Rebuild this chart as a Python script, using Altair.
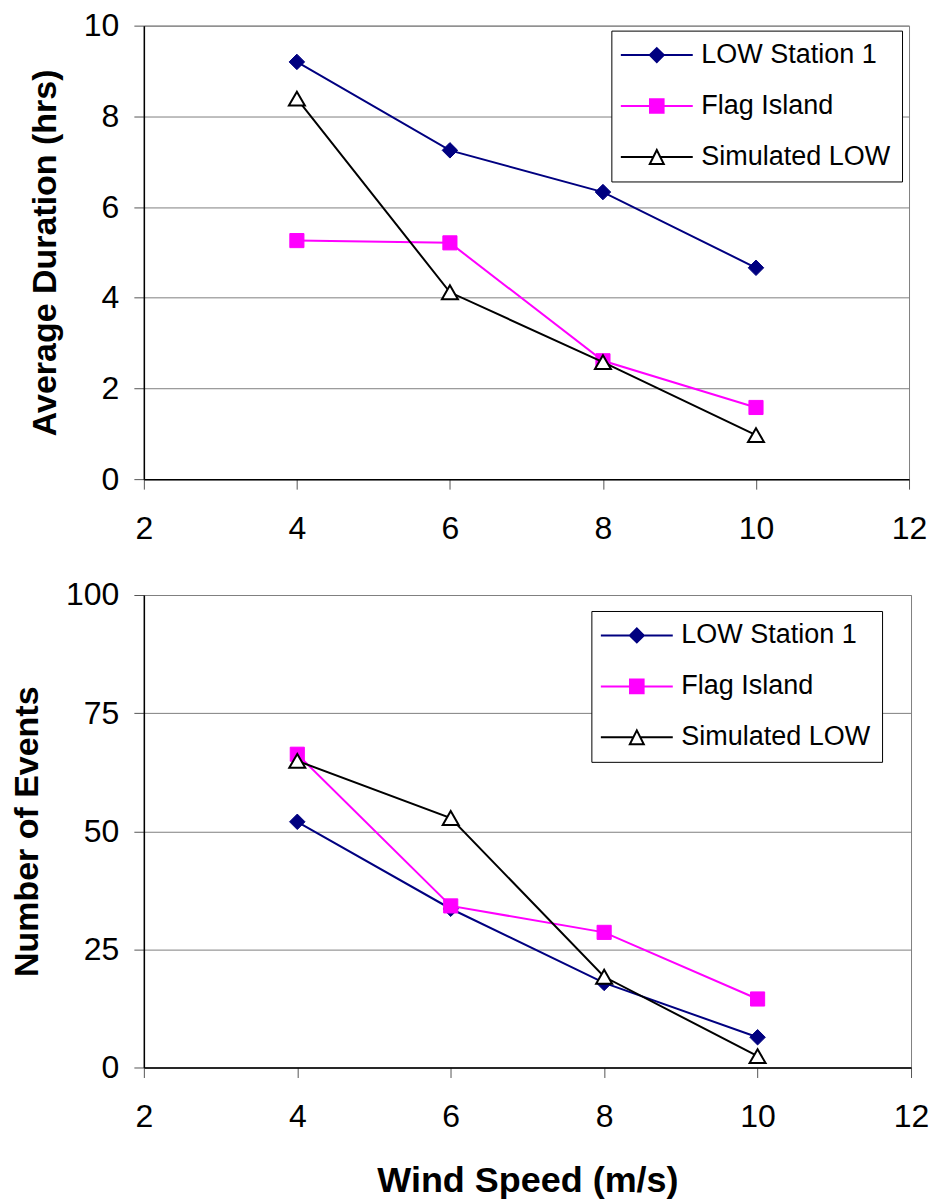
import altair as alt
import pandas as pd

# ---------------- data ----------------
wind_speed = [4, 6, 8, 10]
series_names = ["LOW Station 1", "Flag Island", "Simulated LOW"]

duration_low = [9.2, 7.25, 6.33, 4.66]
duration_flag = [5.26, 5.21, 2.61, 1.58]
duration_sim = [8.39, 4.12, 2.58, 0.97]

events_low = [52.0, 33.6, 17.9, 6.4]
events_flag = [66.3, 34.2, 28.6, 14.5]
events_sim = [64.9, 52.8, 19.2, 2.4]

x_ticks = [2, 4, 6, 8, 10, 12]
duration_ticks = [0, 2, 4, 6, 8, 10]
events_ticks = [0, 25, 50, 75, 100]

# ---------------- styles ----------------
line_colors = ["#000080", "#FF00FF", "#000000"]
fill_colors = ["#000080", "#FF00FF", "#FFFFFF"]
point_shapes = ["diamond", "square", "triangle-up"]
point_sizes = [240, 200, 256]
point_stroke_widths = [1, 1, 2]
legend_paths = [
    "M-3.6,0H3.6M0,-0.7L0.7,0L0,0.7L-0.7,0Z",
    "M-3.6,0H3.6M-0.68,-0.68H0.68V0.68H-0.68Z",
    "M-3.6,0H-0.35M0.35,0H3.6M0,-0.7L0.7,0.7L-0.7,0.7Z",
]
FONT = "Liberation Sans"


def panel(values, y_title, y_ticks, y_max, width, height, x_title,
          title_padding, legend_x, legend_y):
    x_enc = alt.X(
        "wind:Q",
        scale=alt.Scale(domain=[2, 12], nice=False, zero=False),
        axis=alt.Axis(values=x_ticks, title=x_title, grid=False,
                      labelFlush=False, labelPadding=24, titlePadding=31,
                      titleFontSize=36),
    )
    y_enc = alt.Y(
        "value:Q",
        scale=alt.Scale(domain=[0, y_max], nice=False),
        axis=alt.Axis(values=y_ticks, title=y_title, grid=True,
                      labelFlush=False, labelPadding=15,
                      titlePadding=title_padding, titleFontSize=34),
    )
    layers = []
    for name, vals, col, fil, shp, sz, sw in zip(
        series_names, values, line_colors, fill_colors, point_shapes,
        point_sizes, point_stroke_widths
    ):
        df = pd.DataFrame({"wind": wind_speed, "value": vals, "series": name})
        base = alt.Chart(df).encode(x=x_enc, y=y_enc)
        layers.append(base.mark_line(color=col, strokeWidth=2))
        layers.append(
            base.mark_point(shape=shp, filled=True, fill=fil, stroke=col,
                            strokeWidth=sw, size=sz, opacity=1)
        )

    leg = alt.Legend(
        title=None, orient="none", legendX=legend_x, legendY=legend_y,
        direction="vertical", strokeColor="black", fillColor="white",
        padding=11, rowPadding=23, symbolSize=400, symbolStrokeWidth=2,
        symbolOffset=21, labelOffset=31, labelFont=FONT,
        labelFontSize=27, labelColor="black", labelLimit=400,
    )
    legend_df = pd.DataFrame({"series": series_names})
    legend_layer = (
        alt.Chart(legend_df)
        .transform_filter("false")
        .mark_point(filled=True, opacity=1, strokeWidth=2)
        .encode(
            shape=alt.Shape("series:N", scale=alt.Scale(domain=series_names, range=legend_paths), legend=leg),
            fill=alt.Fill("series:N", scale=alt.Scale(domain=series_names, range=fill_colors), legend=leg),
            stroke=alt.Stroke("series:N", scale=alt.Scale(domain=series_names, range=line_colors), legend=leg),
        )
    )
    layers.append(legend_layer)
    return alt.layer(*layers).properties(width=width, height=height)


top = panel([duration_low, duration_flag, duration_sim], "Average Duration (hrs)",
            duration_ticks, 10, 766, 454, None, 21, 468, 5)
bottom = panel([events_low, events_flag, events_sim], "Number of Events",
               events_ticks, 100, 768, 473, "Wind Speed (m/s)", 21, 448, 16)

chart = (
    alt.vconcat(top, bottom, spacing=116, bounds="flush")
    .resolve_scale(shape="independent", fill="independent", stroke="independent",
                   x="independent", y="independent")
    .resolve_legend(shape="independent", fill="independent", stroke="independent")
    .properties(padding={"top": 0, "left": 2, "right": 0, "bottom": 0},
                background="white")
    .configure_view(stroke="#808080", strokeWidth=1)
    .configure_axis(
        labelFont=FONT, labelFontSize=32, labelColor="black",
        titleFont=FONT, titleFontWeight="bold", titleColor="black",
        domainColor="black", domainWidth=1.5,
        tickColor="#555555", tickSize=10, tickWidth=1,
        gridColor="#808080", gridWidth=1,
    )
)

chart.save("out.html", embed_options={"renderer": "svg", "actions": False})
